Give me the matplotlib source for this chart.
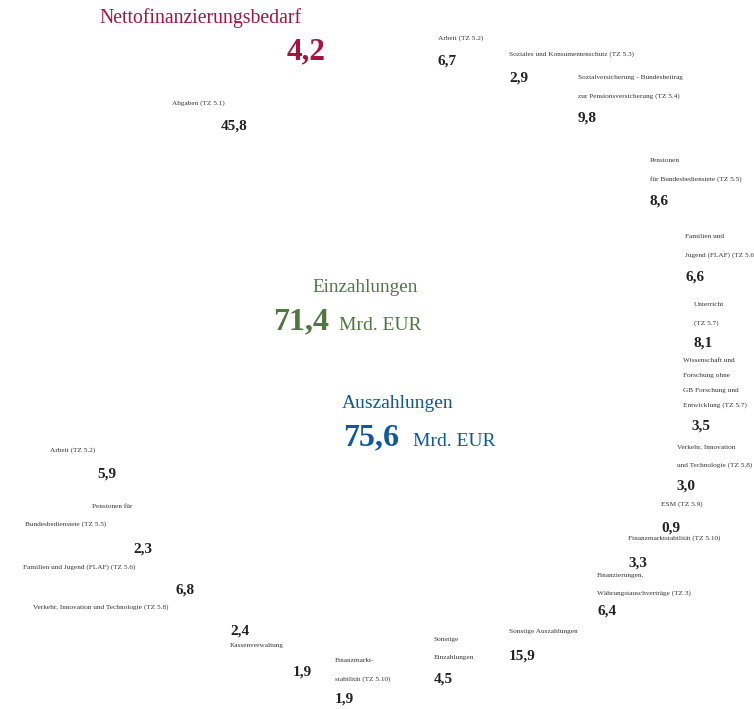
import matplotlib
matplotlib.use('Agg')
import matplotlib.pyplot as plt

plt.rcParams['font.family'] = ['Liberation Serif', 'DejaVu Serif']

# data: Einzahlungen / Auszahlungen in Mrd. EUR
einz_total = 71.4
ausz_total = 75.6
netto = 4.2

einz_labels = ['Abgaben (TZ 5.1)', 'Arbeit (TZ 5.2)', 'Pensionen für\nBundesbedienstete (TZ 5.5)',
               'Familien und Jugend (FLAF) (TZ 5.6)', 'Verkehr, Innovation und Technologie (TZ 5.8)',
               'Kassenverwaltung', 'Finanzmarkt-\nstabilität (TZ 5.10)', 'Sonstige\nEinzahlungen']
einz_values = [45.8, 5.9, 2.3, 6.8, 2.4, 1.9, 1.9, 4.5]

ausz_labels = ['Arbeit (TZ 5.2)', 'Soziales und Konsumentenschutz (TZ 5.3)',
               'Sozialversicherung - Bundesbeitrag\nzur Pensionsversicherung (TZ 5.4)',
               'Pensionen\nfür Bundesbedienstete (TZ 5.5)', 'Familien und\nJugend (FLAF) (TZ 5.6)',
               'Unterricht\n(TZ 5.7)', 'Wissenschaft und\nForschung ohne\nGB Forschung und\nEntwicklung (TZ 5.7)',
               'Verkehr, Innovation\nund Technologie (TZ 5.8)', 'ESM (TZ 5.9)',
               'Finanzmarktstabilität (TZ 5.10)', 'Finanzierungen,\nWährungstauschverträge (TZ 3)',
               'Sonstige Auszahlungen']
ausz_values = [6.7, 2.9, 9.8, 8.6, 6.6, 8.1, 3.5, 3.0, 0.9, 3.3, 6.4, 15.9]

# layout in pixels (x left, y of first line centre) -- labels and values
einz_label_pos = [(172, 103), (50, 450), [(92, 506), (25, 524)], (23, 567), (33, 607),
                  (230, 646), (335, 661), (434, 640)]
einz_value_pos = [(221, 126), (97, 474), (133, 549), (176, 590), (230, 631),
                  (293, 672), (335, 699), (434, 679)]
ausz_label_pos = [(438, 38), (509, 54), (578, 78), (650, 161), (685, 237), (694, 305),
                  (683, 361), (677, 447), (661, 504), (628, 538), (597, 575), (509, 632)]
ausz_value_pos = [(438, 61), (509, 78), (578, 118), (650, 201), (685, 277), (694, 343),
                  (691, 426), (676, 486), (661, 528), (628, 563), (597, 611), (509, 656)]

W, H = 754, 709
fig = plt.figure(figsize=(W / 100, H / 100), dpi=100)

red = '#A8123F'
green = '#4E7840'
blue = '#0D58A0'
grey = '#333333'


def fmt(v):
    return f'{v:.1f}'.replace('.', ',')


def put(x, y, s, **kw):
    fig.text(x / W, 1 - y / H, s, va='center', ha='left', **kw)


def put_label(pos, label):
    lines = label.split('\n')
    if isinstance(pos, list):
        for (x, y), ln in zip(pos, lines):
            put(x, y, ln, fontsize=5.2, color=grey)
        return
    x, y = pos
    step = 14.7 if len(lines) > 3 else 18
    for i, ln in enumerate(lines):
        put(x, y + i * step, ln, fontsize=5.2, color=grey)


for lab, v, lp, vp in zip(einz_labels, einz_values, einz_label_pos, einz_value_pos):
    put_label(lp, lab)
    put(vp[0], vp[1], fmt(v), fontsize=11, fontweight='bold', color='#222222')

for lab, v, lp, vp in zip(ausz_labels, ausz_values, ausz_label_pos, ausz_value_pos):
    put_label(lp, lab)
    put(vp[0], vp[1], fmt(v), fontsize=11, fontweight='bold', color='#222222')

# headline numbers
put(99, 18, 'Nettofinanzierungsbedarf', fontsize=14.2, color=red)
put(287, 52, fmt(netto), fontsize=22.5, fontweight='bold', color=red)

put(312, 288, 'Einzahlungen', fontsize=13.8, color=green)
put(273, 322, fmt(einz_total), fontsize=23, fontweight='bold', color=green)
put(339, 326, 'Mrd. EUR', fontsize=14, color=green)

put(342, 404, 'Auszahlungen', fontsize=14, color=blue)
put(343, 438, fmt(ausz_total), fontsize=23, fontweight='bold', color=blue)
put(413, 442, 'Mrd. EUR', fontsize=14, color=blue)

fig.savefig('out.png', dpi=100)
